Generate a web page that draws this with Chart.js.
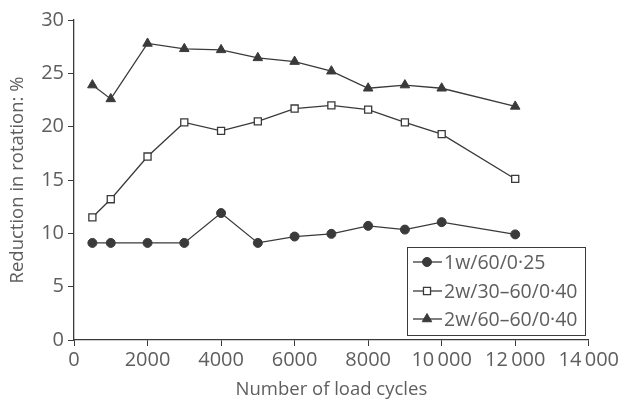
<!DOCTYPE html>
<html>
<head>
<meta charset="utf-8">
<script src="https://cdn.jsdelivr.net/npm/chart.js@4"></script>
<style>
  html, body { margin: 0; padding: 0; background: #fff; }
  #wrap { width: 621px; height: 401px; }
</style>
</head>
<body>
<div id="wrap"><canvas id="c" width="621" height="401"></canvas></div>
<script>
// données
const cycles = [500, 1000, 2000, 3000, 4000, 5000, 6000, 7000, 8000, 9000, 10000, 12000];
const serie1w = [9.1, 9.1, 9.1, 9.1, 11.9, 9.1, 9.7, 9.95, 10.7, 10.35, 11.05, 9.9];
const serie2w30 = [11.5, 13.2, 17.2, 20.4, 19.6, 20.5, 21.7, 22.0, 21.6, 20.4, 19.3, 15.1];
const serie2w60 = [23.9, 22.6, 27.8, 27.3, 27.2, 26.45, 26.1, 25.2, 23.6, 23.9, 23.6, 21.9];
const labels = ['1w/60/0·25', '2w/30–60/0·40', '2w/60–60/0·40'];
const xTicks = [0, 2000, 4000, 6000, 8000, 10000, 12000, 14000];
const yTicks = [0, 5, 10, 15, 20, 25, 30];

const FONT = '"Open Sans", "Noto Sans", sans-serif';
const TXT = '#5e5e5e';
const INK = '#3a3a3a';

function pts(vals) { return cycles.map((x, i) => ({ x: x, y: vals[i] })); }

function fmtX(v) {
  if (v >= 10000) return String(v).replace(/(\d{2})(\d{3})$/, '$1\u2009$2');
  return String(v);
}

// légende encadrée dans la zone du graphique
const boxLegend = {
  id: 'boxLegend',
  afterDraw(chart) {
    const ctx = chart.ctx;
    const x0 = 407, y0 = 247, w = 178, h = 88;
    ctx.save();
    ctx.fillStyle = '#fff';
    ctx.fillRect(x0, y0, w, h);
    ctx.strokeStyle = INK;
    ctx.lineWidth = 1;
    ctx.strokeRect(x0 + 0.5, y0 + 0.5, w, h);
    const rows = [262, 291, 319];
    chart.data.datasets.forEach((ds, i) => {
      const y = rows[i];
      ctx.strokeStyle = INK;
      ctx.lineWidth = 1.3;
      ctx.beginPath();
      ctx.moveTo(413, y);
      ctx.lineTo(442, y);
      ctx.stroke();
      ctx.fillStyle = ds.pointBackgroundColor;
      ctx.strokeStyle = INK;
      ctx.lineWidth = ds.pointBorderWidth;
      Chart.helpers.drawPoint(ctx, { pointStyle: ds.pointStyle, radius: ds.pointRadius, rotation: 0, borderWidth: ds.pointBorderWidth }, 427, y);
      ctx.fillStyle = TXT;
      ctx.font = '19.5px ' + FONT;
      ctx.textBaseline = 'middle';
      ctx.textAlign = 'left';
      ctx.fillText(ds.label, 444, y + 1);
    });
    ctx.restore();
  }
};

new Chart(document.getElementById('c'), {
  type: 'line',
  data: {
    datasets: [
      { label: labels[0], data: pts(serie1w), borderColor: INK, borderWidth: 1.3,
        pointStyle: 'circle', pointRadius: 4.5, pointBackgroundColor: INK, pointBorderColor: INK, pointBorderWidth: 1 },
      { label: labels[1], data: pts(serie2w30), borderColor: INK, borderWidth: 1.3,
        pointStyle: 'rect', pointRadius: 5, pointBackgroundColor: '#fff', pointBorderColor: INK, pointBorderWidth: 1.3 },
      { label: labels[2], data: pts(serie2w60), borderColor: INK, borderWidth: 1.3,
        pointStyle: 'triangle', pointRadius: 5.5, pointBackgroundColor: INK, pointBorderColor: INK, pointBorderWidth: 1 }
    ]
  },
  options: {
    responsive: false,
    animation: false,
    layout: { padding: { top: 20, right: 32, left: 7, bottom: 0 } },
    plugins: { legend: { display: false }, tooltip: { enabled: false } },
    scales: {
      x: {
        type: 'linear', min: 0, max: 14000,
        afterBuildTicks: (s) => { s.ticks = xTicks.map(v => ({ value: v })); },
        afterFit: (s) => { s.height = 61; },
        border: { color: INK, width: 1.3 },
        grid: { drawOnChartArea: false, drawTicks: true, tickLength: 6, color: INK },
        ticks: { color: TXT, font: { family: FONT, size: 20 }, padding: 2, callback: (v) => fmtX(v), maxRotation: 0 },
        title: { display: true, text: 'Number of load cycles', color: TXT, font: { family: FONT, size: 18.5 }, padding: { top: 0, bottom: 0 } }
      },
      y: {
        min: 0, max: 30,
        afterBuildTicks: (s) => { s.ticks = yTicks.map(v => ({ value: v })); },
        afterFit: (s) => { s.width = 67; },
        border: { color: INK, width: 1.3 },
        grid: { drawOnChartArea: false, drawTicks: true, tickLength: 6, color: INK },
        ticks: { color: TXT, font: { family: FONT, size: 20 }, padding: 4 },
        title: { display: true, text: 'Reduction in rotation: %', color: TXT, font: { family: FONT, size: 18.5 }, padding: { top: 0, bottom: 4 } }
      }
    }
  },
  plugins: [boxLegend]
});
</script>
</body>
</html>
